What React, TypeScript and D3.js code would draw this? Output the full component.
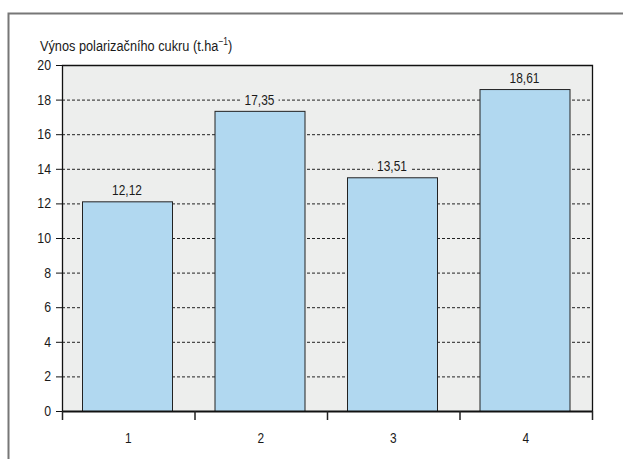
import React from "react";
import * as d3 from "d3";

const categories = ["1", "2", "3", "4"];
const values = [12.12, 17.35, 13.51, 18.61];
const valueLabels = ["12,12", "17,35", "13,51", "18,61"];
const yTicks = [0, 2, 4, 6, 8, 10, 12, 14, 16, 18, 20];

const W = 623;
const H = 459;
const FONT = "'Liberation Sans', Arial, sans-serif";
const SX = 0.85;

function T({ x, y, anchor = "start", size = 14, children }: any) {
  return (
    <text transform={`translate(${x},${y}) scale(${SX},1)`} textAnchor={anchor} fontFamily={FONT} fontSize={size} fill="#1a1a1a">
      {children}
    </text>
  );
}

export default function App() {
  const left = 62, right = 592, top = 65, bottom = 411;
  const xOuter = d3.scaleBand<string>().domain(categories).range([left, right]);
  const y = d3.scaleLinear().domain([0, 20]).range([bottom, top]);
  const bw = 90;
  const barX = (c: string) => (xOuter(c) as number) + 20;

  return (
    <svg width={W} height={H} style={{ position: "absolute", left: 0, top: 0, background: "#fff" }}>
      {/* outer frame */}
      <path d={`M8.5,${H} V13.5 H${W}`} fill="none" stroke="#777" strokeWidth={2} />
      {/* plot background */}
      <rect x={left} y={top} width={right - left} height={bottom - top} fill="#edeeed" />
      {/* gridlines */}
      {yTicks.filter(t => t > 0 && t < 20).map(t => (
        <line key={"g" + t} x1={left} x2={right} y1={y(t) + 0.5} y2={y(t) + 0.5} stroke="#222" strokeWidth={1} strokeDasharray="3,2" />
      ))}
      {/* bars */}
      {categories.map((c, i) => (
        <rect key={"b" + c} x={barX(c) + 0.5} y={y(values[i]) + 0.5} width={bw} height={bottom - y(values[i])}
          fill="#b1d8f0" stroke="#222" strokeWidth={1} />
      ))}
      {/* value labels */}
      {categories.map((c, i) => {
        const cx = barX(c) + bw / 2;
        const ty = y(values[i]) - 6;
        return (
          <g key={"v" + c}>
            <rect x={cx - 19} y={ty - 11} width={38} height={14} fill="#edeeed" />
            <T x={cx} y={ty} anchor="middle">{valueLabels[i]}</T>
          </g>
        );
      })}
      {/* plot borders */}
      <path d={`M${left + 0.5},${bottom} V${top + 0.5} H${right + 0.5} V${bottom}`} fill="none" stroke="#111" strokeWidth={1.3} />
      {/* x axis line */}
      <line x1={left} x2={right + 1} y1={bottom + 0.5} y2={bottom + 0.5} stroke="#111" strokeWidth={2} />
      {/* x ticks */}
      {[...categories.map(c => xOuter(c) as number), right].map((px, i) => (
        <line key={"xt" + i} x1={px + 0.5} x2={px + 0.5} y1={bottom} y2={bottom + 9} stroke="#222" strokeWidth={1.5} />
      ))}
      {/* x labels */}
      {categories.map(c => (
        <T key={"xl" + c} x={(xOuter(c) as number) + xOuter.bandwidth() / 2} y={443} anchor="middle">{c}</T>
      ))}
      {/* y ticks */}
      {yTicks.map(t => (
        <g key={"yt" + t}>
          <line x1={left - 6} x2={left} y1={y(t) + 0.5} y2={y(t) + 0.5} stroke="#111" strokeWidth={1} />
          <T x={left - 11} y={y(t) + 5} anchor="end" size={14.5}>{t}</T>
        </g>
      ))}
      {/* y title */}
      <T x={40} y={51} size={15}>
        Výnos polarizačního cukru (t.ha<tspan dy={-6} fontSize={10}>−1</tspan><tspan dy={6}>)</tspan>
      </T>
    </svg>
  );
}
